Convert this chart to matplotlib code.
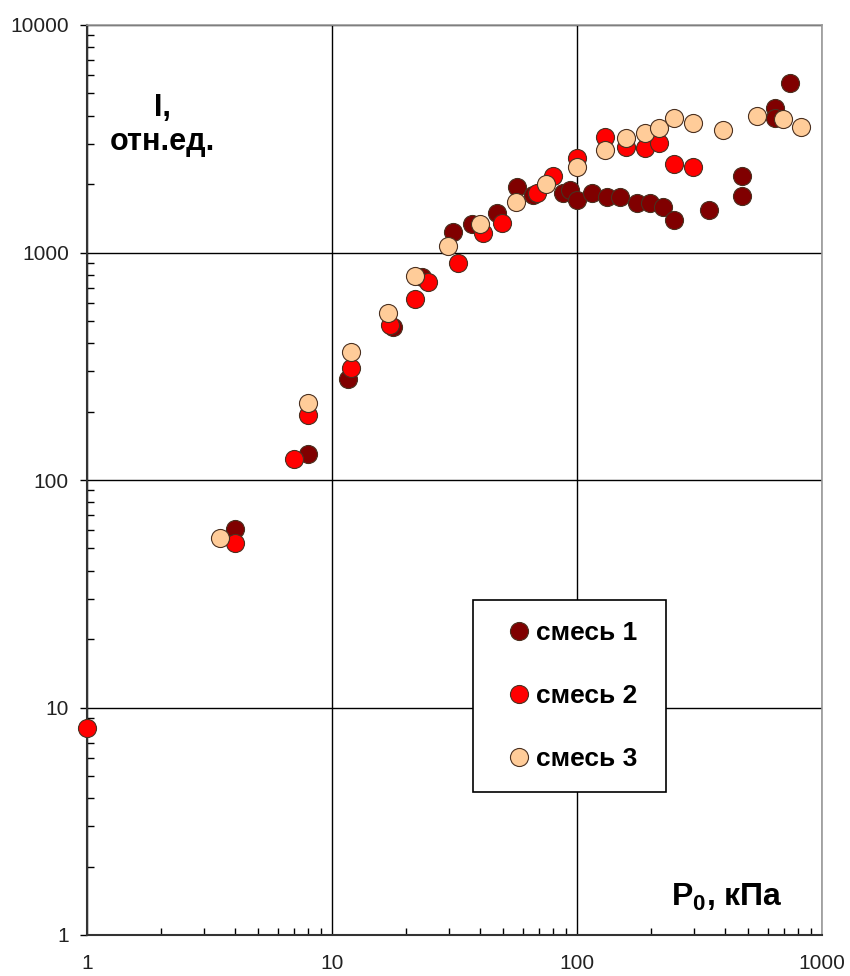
import matplotlib
matplotlib.use('Agg')
import matplotlib.pyplot as plt
from matplotlib.patches import Rectangle
from matplotlib.ticker import LogLocator, FixedFormatter, FixedLocator, NullFormatter

plt.rcParams['font.family'] = ['Liberation Sans Narrow', 'Liberation Sans', 'DejaVu Sans']

# смесь 1
p1 = [4, 8, 11.6, 17.7, 23.3, 31.2, 37.3, 47.1, 56.8, 66.1, 87.7, 93.6, 100,
      115, 133, 150, 176, 199, 225, 249, 346, 471, 471, 643, 643, 740]
i1 = [61, 130, 278, 471, 780, 1231, 1334, 1492, 1941, 1790, 1828, 1885, 1702,
      1828, 1753, 1753, 1651, 1651, 1585, 1390, 1537, 2168, 1770, 4316, 3899, 5560]
# смесь 2
p2 = [1, 4, 7, 8, 12, 17.2, 21.8, 24.6, 32.7, 41.3, 49.4, 68.7, 79.8, 100,
      130, 158, 190, 216, 249, 297]
i2 = [8.1, 53, 124, 193, 311, 480, 625, 742, 899, 1219, 1349, 1828, 2168, 2602,
      3220, 2911, 2880, 3029, 2448, 2375]
# смесь 3
p3 = [3.5, 8, 12, 16.9, 21.8, 29.7, 40.2, 56.3, 74.7, 100, 130, 158, 190, 216,
      249, 297, 394, 543, 693, 820]
i3 = [55.6, 218, 365, 542, 788, 1068, 1334, 1667, 2001, 2375, 2826, 3190, 3350,
      3524, 3899, 3707, 3453, 3985, 3862, 3563]

series = [
    (p1, i1, '#800000', 'смесь 1'),
    (p2, i2, '#ff0000', 'смесь 2'),
    (p3, i3, '#ffcc99', 'смесь 3'),
]

fig = plt.figure(figsize=(8.5, 9.76), dpi=100)
ax = fig.add_axes([87/850, 1-935/976, 735/850, 910/976])

for x, y, c, lab in series:
    ax.plot(x, y, 'o', ms=13, mfc=c, mec='#4a3020', mew=0.8, label=lab,
            zorder=3, clip_on=False)

ax.set_xscale('log')
ax.set_yscale('log')
ax.set_xlim(1, 1000)
ax.set_ylim(1, 10000)

ax.xaxis.set_major_locator(FixedLocator([1, 10, 100, 1000]))
ax.xaxis.set_major_formatter(FixedFormatter(['1', '10', '100', '1000']))
ax.yaxis.set_major_locator(FixedLocator([1, 10, 100, 1000, 10000]))
ax.yaxis.set_major_formatter(FixedFormatter(['1', '10', '100', '1000', '10000']))
ax.xaxis.set_minor_locator(LogLocator(base=10, subs=range(2, 10), numticks=20))
ax.yaxis.set_minor_locator(LogLocator(base=10, subs=range(2, 10), numticks=20))
ax.xaxis.set_minor_formatter(NullFormatter())
ax.yaxis.set_minor_formatter(NullFormatter())

ax.tick_params(which='major', direction='out', length=5, width=1, labelsize=15,
               labelcolor='#222222', pad=8)
ax.tick_params(axis='x', which='major', length=0, pad=14)
ax.tick_params(which='minor', direction='in', length=5, width=1)

ax.grid(True, which='major', color='black', linewidth=1)
ax.set_axisbelow(True)

for s in ['left', 'bottom']:
    ax.spines[s].set_color('#333333')
    ax.spines[s].set_linewidth(1.5)
for s in ['top', 'right']:
    ax.spines[s].set_color('#999999')
    ax.spines[s].set_linewidth(1.2)

ax.text(0.102, 0.89, 'I,\nотн.ед.', transform=ax.transAxes, ha='center', va='center',
        fontsize=22, fontweight='bold', linespacing=1.15, family=['Liberation Sans', 'DejaVu Sans'])
ax.text(0.871, 0.041, 'P$_\\mathregular{0}$, кПа', transform=ax.transAxes, ha='center', va='center',
        fontsize=23, fontweight='bold')

# legend box
ax.add_patch(Rectangle((0.525, 0.157), 0.2626, 0.211, transform=ax.transAxes,
                       facecolor='white', edgecolor='black', linewidth=1.2, zorder=4))
leg = ax.legend(loc='center', bbox_to_anchor=(0.659, 0.2626), frameon=False,
                prop={'size': 19, 'weight': 'bold', 'family': ['Liberation Sans', 'DejaVu Sans']},
                labelspacing=1.48, handletextpad=0.15, borderpad=0.0, handlelength=1.0,
                borderaxespad=0, markerscale=1.0)
leg.set_zorder(5)

fig.savefig('out.png', dpi=100)
